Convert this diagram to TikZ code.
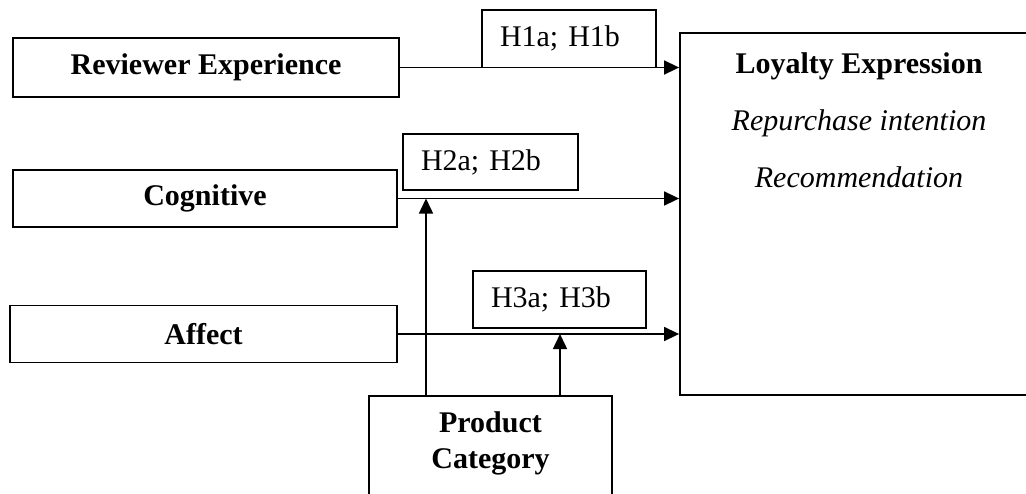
\documentclass[tikz,border=0pt]{standalone}
\usepackage{fontspec}
\setmainfont{Liberation Serif}
\usetikzlibrary{arrows.meta}
\frenchspacing
\begin{document}
\begin{tikzpicture}[x=1pt,y=-1pt,
  box/.style={draw, line width=1.8pt, inner sep=0pt, align=center,
    font=\fontsize{30}{36}\selectfont\bfseries},
  hbox/.style={draw, line width=1.6pt, inner sep=0pt, text width=#1, align=left,
    font=\fontsize{30}{36}\selectfont},
  txt/.style={inner sep=0pt, anchor=base, font=\fontsize{30}{36}\selectfont},
  conn/.style={line width=1.5pt, -{Triangle[length=15pt,width=14pt]}}]
\useasboundingbox (0,0) rectangle (1026,493);

% left boxes
\node[box, minimum width=386pt, minimum height=59pt] (rev) at (206,67.5) {Reviewer Experience};
\node[box, minimum width=384pt, minimum height=57pt] (cog) at (205,198.5) {Cognitive};
\node[box, minimum width=387pt, minimum height=57pt] (aff) at (203.5,334) {Affect};

% hypothesis boxes
\node[hbox=138pt, minimum width=174pt, minimum height=57.5pt] (h1) at (569,38.75) {H1a; H1b};
\node[hbox=139pt, minimum width=175pt, minimum height=56pt] (h2) at (490.5,162) {H2a; H2b};
\node[hbox=137pt, minimum width=173pt, minimum height=57pt] (h3) at (559.5,299.5) {H3a; H3b};

% loyalty box
\node[draw, line width=1.8pt, minimum width=358pt, minimum height=362pt, inner sep=0pt] (loy) at (859,214) {};
\node[txt, font=\fontsize{30}{36}\selectfont\bfseries] (l1) at (859,73) {Loyalty Expression};
\node[txt, font=\fontsize{30}{36}\selectfont\itshape] (l2) at (859,130) {Repurchase intention};
\node[txt, font=\fontsize{30}{36}\selectfont\itshape] (l3) at (859,187) {Recommendation};

% product category box
\node[draw, line width=1.8pt, minimum width=243pt, minimum height=124pt, inner sep=0pt] (prod) at (490.5,458) {};
\node[txt, font=\fontsize{30}{36}\selectfont\bfseries] (p1) at (490.5,432) {Product};
\node[txt, font=\fontsize{30}{36}\selectfont\bfseries] (p2) at (490.5,468) {Category};

% connectors
\draw[conn] (rev.east) -- (rev.east -| loy.west);
\draw[conn] (cog.east) -- (cog.east -| loy.west);
\draw[conn] (aff.east) -- (aff.east -| loy.west);

\coordinate (m2) at (426,198.5);
\coordinate (m3) at (560,334);
\draw[conn] (m2 |- prod.north) -- (m2);
\draw[conn] (m3 |- prod.north) -- (m3);
\end{tikzpicture}
\end{document}
